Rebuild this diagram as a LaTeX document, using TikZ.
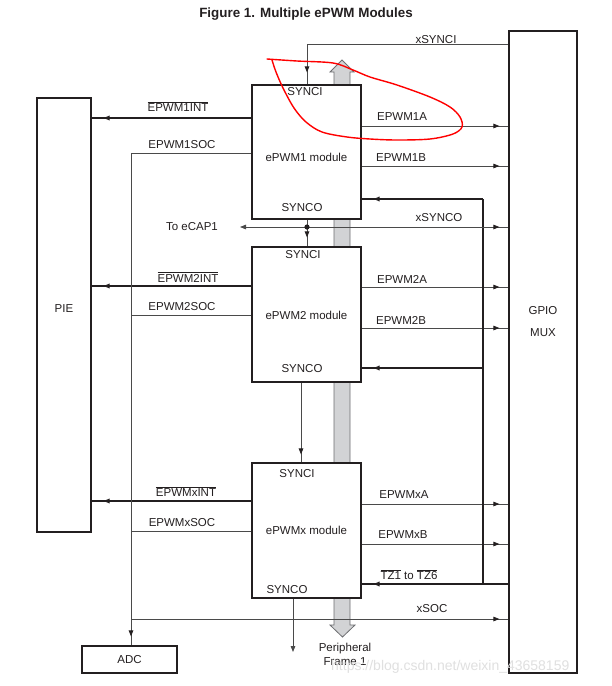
\documentclass[tikz,border=0pt]{standalone}
\usepackage{fontspec}
\setmainfont{Liberation Sans}
\usetikzlibrary{arrows.meta,decorations.markings}
\definecolor{lc}{HTML}{231F20}
\definecolor{sc}{HTML}{4A4A4A}
\definecolor{bandfill}{HTML}{D2D3D5}
\definecolor{bandline}{HTML}{6D6E71}
\begin{document}
\begin{tikzpicture}[x=1pt,y=-1pt,
  font=\fontsize{11.5}{13}\selectfont,
  >={Triangle[length=6pt,width=4.6pt]},
  box/.style={draw=lc, line width=1.3pt, fill=white, inner sep=0pt},
  txt/.style={inner sep=0pt, text=lc},
  sig/.style={draw=sc, line width=0.8pt},
  intl/.style={draw=lc, line width=1.3pt},
  busl/.style={draw=lc, line width=2pt},
  marr/.style={postaction={decorate,decoration={markings,mark=at position -#1 with {\arrow[lc]{>}}}}}]
\useasboundingbox (0,0) rectangle (612,686);
\fill[white] (0,0) rectangle (612,686);

% title
\node[txt, font=\fontsize{13.4}{15}\selectfont\bfseries] (title) at (306,14) {Figure 1. Multiple ePWM Modules};

% peripheral frame band
\draw[fill=bandfill, draw=bandline, line width=0.8pt]
  (334,72) -- (330,72) -- (342,60) -- (354,72) -- (350,72) -- (350,625) -- (355,625)
  -- (342.5,637) -- (330,625) -- (334,625) -- cycle;

% boxes
\node[box, minimum width=54pt, minimum height=434pt] (pie) at (64,315) {};
\node[txt] (pietxt) at (64,309) {PIE};
\node[box, minimum width=68pt, minimum height=642pt] (gpio) at (543,352) {};
\node[txt] (gpiotxt) at (543,311) {GPIO};
\node[txt] (muxtxt) at (543,333) {MUX};
\node[box, minimum width=109pt, minimum height=134pt] (e1) at (306.5,152) {};
\node[box, minimum width=109pt, minimum height=135pt] (e2) at (306.5,314.5) {};
\node[box, minimum width=109pt, minimum height=135pt] (ex) at (306.5,530.5) {};
\node[box, minimum width=95pt, minimum height=27pt] (adc) at (129.5,659.5) {};
\node[txt] (adctxt) at (129.5,660) {ADC};

% texts inside modules
\node[txt] (si1) at (305,92) {SYNCI};
\node[txt] (m1) at (306.5,157) {ePWM1 module};
\node[txt] (so1) at (302,208) {SYNCO};
\node[txt] (si2) at (303,255) {SYNCI};
\node[txt] (m2) at (306.5,315) {ePWM2 module};
\node[txt] (so2) at (302,369) {SYNCO};
\node[txt] (six) at (297,474) {SYNCI};
\node[txt] (mx) at (306.5,530) {ePWMx module};
\node[txt] (sox) at (287,590) {SYNCO};

% coordinates
\coordinate (dot) at (307,227);
\coordinate (capend) at (240,227);
\coordinate (syncout) at (293,652);
\coordinate (tzbot) at (483,584);
\coordinate (tztop) at (483,199);
\coordinate (tzmid) at (483,368);
\coordinate (socx) at (131,619);

% xSYNCI
\draw[sig, marr=12pt] (gpio.west |- 0,44) -| (307,0 |- e1.north);
\node[txt] (lxsynci) at (436,40) {xSYNCI};

% left side: INT
\draw[intl, marr=12pt] (e1.west |- 0,118) -- (pie.east |- 0,118);
\draw[intl, marr=12pt] (e2.west |- 0,286) -- (pie.east |- 0,286);
\draw[intl, marr=12pt] (ex.west |- 0,501) -- (pie.east |- 0,501);
\node[txt] (l1int) at (178,107) {$\overline{\mbox{EPWM1INT}}$};
\node[txt] (l2int) at (188,277) {$\overline{\mbox{EPWM2INT}}$};
\node[txt] (lxint) at (186,492) {$\overline{\mbox{EPWMxINT}}$};

% left side: SOC
\draw[sig, marr=9pt] (e1.west |- 0,153) -| (131,0 |- adc.north);
\draw[sig] (e2.west |- 0,315) -- (131,315);
\draw[sig] (ex.west |- 0,531) -- (131,531);
\node[txt] (l1soc) at (182,145) {EPWM1SOC};
\node[txt] (l2soc) at (182,307) {EPWM2SOC};
\node[txt] (lxsoc) at (182,523) {EPWMxSOC};

% xSOC
\draw[sig, marr=9pt] (socx) -- (gpio.west |- socx);
\node[txt] (lxsoc2) at (432,609) {xSOC};

% right side outputs
\draw[sig, marr=9pt] (e1.east |- 0,126) -- (gpio.west |- 0,126);
\draw[sig, marr=9pt] (e1.east |- 0,166) -- (gpio.west |- 0,166);
\draw[sig, marr=9pt] (e2.east |- 0,287) -- (gpio.west |- 0,287);
\draw[sig, marr=9pt] (e2.east |- 0,328) -- (gpio.west |- 0,328);
\draw[sig, marr=9pt] (ex.east |- 0,504) -- (gpio.west |- 0,504);
\draw[sig, marr=9pt] (ex.east |- 0,544) -- (gpio.west |- 0,544);
\node[txt] (l1a) at (402,117) {EPWM1A};
\node[txt] (l1b) at (401,158) {EPWM1B};
\node[txt] (l2a) at (402,279) {EPWM2A};
\node[txt] (l2b) at (401,320) {EPWM2B};
\node[txt] (lxa) at (404,495) {EPWMxA};
\node[txt] (lxb) at (403,535) {EPWMxB};

% TZ bus
\draw[busl, marr=12pt] (gpio.west |- tzbot) -- (ex.east |- tzbot);
\draw[busl] (tzbot) -- (tztop);
\draw[busl, marr=12pt] (tztop) -- (e1.east |- tztop);
\draw[busl, marr=12pt] (tzmid) -- (e2.east |- tzmid);
\node[txt] (ltz) at (409,575) {$\overline{\mbox{TZ1}}$ to $\overline{\mbox{TZ6}}$};

% sync chain
\draw[sig] (307,0 |- e1.south) -- (dot);
\draw[sig, marr=9pt] (dot) -- (307,0 |- e2.north);
\draw[sig, marr=9pt] (dot) -- (gpio.west |- dot);
\draw[sig, ->] (dot) -- (capend);
\fill[lc] (dot) circle (2.6pt);
\node[txt] (lcap) at (192,227) {To eCAP1};
\node[txt] (lxsynco) at (439,218) {xSYNCO};
\draw[sig, marr=8pt] (301,0 |- e2.south) -- (301,0 |- ex.north);
\draw[sig, ->] (293,0 |- ex.south) -- (syncout);

% peripheral frame label
\node[txt, align=center, font=\fontsize{11.5}{14}\selectfont] (pf) at (345,654) {Peripheral\\Frame 1};

% watermark
\node[inner sep=0pt, text=black!12, font=\fontsize{14}{16}\selectfont, anchor=west] (wm) at (331,667) {https://blog.csdn.net/weixin\_43658159};

% red hand-drawn annotation
\draw[red, line width=1.4pt, line cap=round, line join=round] plot[smooth, tension=0.55] coordinates {
  (267,59) (297,61) (333,63) (353,70) (370,77) (397,85) (430,97) (450,107)
  (460,117) (462,127) (453,134) (430,139) (397,140) (370,139) (347,137)
  (322,132) (306,122) (294,108) (283,88) (276,72) (272,60)};
\end{tikzpicture}
\end{document}
